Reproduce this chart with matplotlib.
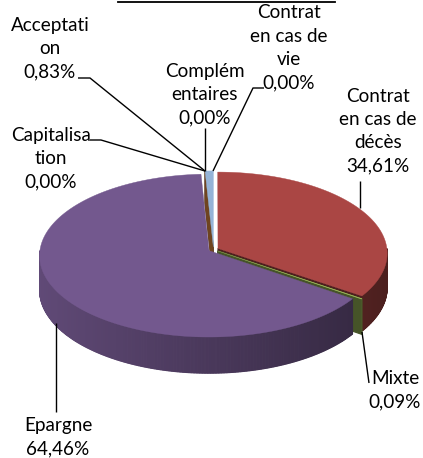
import numpy as np
import matplotlib
matplotlib.use('Agg')
import matplotlib.pyplot as plt
from matplotlib.patches import Polygon
from matplotlib.colors import to_rgb

# ---------------- data ----------------
categories = ["Contrat\nen cas de\ndécès", "Mixte", "Epargne", "Capitalisa\ntion",
              "Acceptati\non", "Complém\nentaires", "Contrat\nen cas de\nvie"]
values = [34.61, 0.09, 64.46, 0.00, 0.83, 0.00, 0.00]
colors = ['#AA4644', '#9BBB59', '#73588E', '#F79646', '#95B3D7', '#4F81BD', '#4BACC6']

# ---------------- layout ----------------
W, H = 423, 458
CX, CY = 213.5, 249.5          # pie centre (pixels)
A, B = 169.0, 81.0             # ellipse semi axes
K = 0.06                       # perspective strength
DEP = 34.0                     # extrusion depth
EXPL = 0.03                    # explosion (relative radius)

label_pos = [(378, 131), (395, 390), (58, 437.5), (51, 159),
             (50, 48.5), (205, 95), (289, 47.8)]
leaders = [
    [(360, 181), (360, 208)],
    [(362, 332), (369, 383)],
    [(56, 323), (56, 412)],
    [(90, 140), (101, 140), (205, 171)],
    [(78, 78), (90, 78), (205, 171)],
    [(205, 128), (205, 171)],
    [(264, 88), (253, 88), (213, 171)],
]

FONT = ['Lato', 'DejaVu Sans']
FS = 13.6
LS = 1.45

fig = plt.figure(figsize=(W / 100, H / 100), dpi=100)
ax = fig.add_axes([0, 0, 1, 1])
ax.set_xlim(0, W)
ax.set_ylim(H, 0)
ax.axis('off')


def proj(X, Y, z=0.0):
    s = 1.0 / (1.0 + K * Y)
    return CX + A * X * s, CY - B * Y * s + z * DEP * s


def shade(rgb, f):
    return tuple(max(0, min(1, c * f)) for c in rgb)


total = sum(values)
angles = np.concatenate([[0], np.cumsum(values) / total * 360.0])

walls = []   # (depth key, polygon, color)
tops = []
for i, v in enumerate(values):
    t0, t1 = angles[i], angles[i + 1]
    tm = np.radians((t0 + t1) / 2)
    ox, oy = EXPL * np.sin(tm), EXPL * np.cos(tm)
    base = to_rgb(colors[i])

    def pt(theta_deg, r=1.0, z=0.0):
        th = np.radians(theta_deg)
        return proj(r * np.sin(th) + ox, r * np.cos(th) + oy, z)

    # top face
    if t1 - t0 > 1e-9:
        n = max(2, int((t1 - t0) / 0.5) + 1)
        arc = [pt(t) for t in np.linspace(t0, t1, n)]
        tops.append((Polygon([pt(0, 0)] + arc, closed=True), base))
    # outer wall (front half)
    lo, hi = max(t0, 90.0), min(t1, 270.0)
    if hi > lo:
        n = max(2, int((hi - lo) / 0.5) + 1)
        ts = np.linspace(lo, hi, n)
        for a0, a1 in zip(ts[:-1], ts[1:]):
            am = np.radians((a0 + a1) / 2)
            f = 0.64 - 0.2 * np.sin(am)
            poly = [pt(a0), pt(a1), pt(a1, 1, 1), pt(a0, 1, 1)]
            walls.append((-(np.cos(am) + oy), Polygon(poly, closed=True), shade(base, f)))
    # radial faces
    for phi, vis in ((t0, np.sin(np.radians(t0)) < -1e-9), (t1, np.sin(np.radians(t1)) > 1e-9)):
        if vis:
            poly = [pt(phi, 0), pt(phi, 1), pt(phi, 1, 1), pt(phi, 0, 1)]
            key = -(0.5 * np.cos(np.radians(phi)) + oy) + (0.001 if v == 0 else 0)
            walls.append((key, Polygon(poly, closed=True), shade(base, 0.45)))

walls.sort(key=lambda w: w[0])
for key, p, c in walls:
    p.set_facecolor(c)
    p.set_edgecolor(c)
    p.set_linewidth(0.8)
    ax.add_patch(p)
for p, c in tops:
    p.set_facecolor(c)
    p.set_edgecolor(c)
    p.set_linewidth(0.3)
    ax.add_patch(p)

# labels
for i, v in enumerate(values):
    txt = categories[i] + "\n" + f"{v:.2f}".replace('.', ',') + "%"
    x, y = label_pos[i]
    ax.text(x, y, txt, ha='center', va='center', fontsize=FS, family=FONT,
            linespacing=LS, color='black')
    xs, ys = zip(*leaders[i])
    ax.plot(xs, ys, color='black', lw=1.0, solid_capstyle='butt')

# clipped title underline at the top edge
ax.plot([118, 335], [1.5, 1.5], color='black', lw=1.3)

fig.savefig('out.png', dpi=100)
